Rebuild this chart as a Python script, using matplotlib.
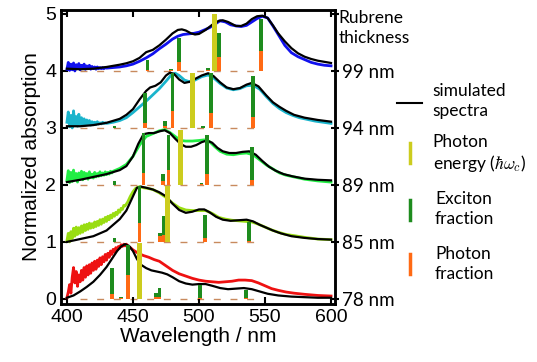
import matplotlib
matplotlib.use("Agg")
import matplotlib.pyplot as plt
from matplotlib.lines import Line2D

plt.rcParams['font.family'] = ['Liberation Sans', 'DejaVu Sans']
plt.rcParams['mathtext.fontset'] = 'cm'

# thickness labels (bottom to top) and vertical offsets
thickness = ['78 nm', '85 nm', '89 nm', '94 nm', '99 nm']
offsets = [0, 1, 2, 3, 4]

# measured spectra (wavelength, normalized absorption); noisy blue end read at 1 nm steps
wl_78 = list(range(400, 447)) + [448, 450, 454, 458, 462, 466, 470, 475, 480, 485, 490, 495, 500,
                                 505, 510, 515, 520, 525, 530, 535, 540, 545, 550, 555, 560, 566,
                                 572, 580, 590, 600]
meas_78 = [0.02, 0.12, 0.25, 0.10, 0.38, 0.55, 0.28, 0.48, 0.22, 0.42, 0.30, 0.50, 0.33, 0.55, 0.38,
           0.58, 0.42, 0.60, 0.45, 0.63, 0.50, 0.66, 0.52, 0.68, 0.57, 0.72, 0.60, 0.74, 0.65, 0.78,
           0.68, 0.80, 0.73, 0.84, 0.78, 0.87, 0.82, 0.90, 0.86, 0.92, 0.89, 0.95, 0.92, 0.96, 0.93,
           0.96, 0.93,
           0.90, 0.86, 0.80, 0.76, 0.73, 0.69, 0.66, 0.58, 0.50, 0.44, 0.40, 0.36, 0.33, 0.31,
           0.30, 0.29, 0.30, 0.31, 0.33, 0.33, 0.32, 0.28, 0.23, 0.18, 0.15, 0.12, 0.10, 0.08, 0.06, 0.05]

wl_85 = list(range(400, 445)) + [446, 448, 450, 452, 455, 458, 461, 465, 470, 475, 480, 485, 490,
                                 495, 500, 505, 510, 515, 520, 525, 530, 535, 540, 545, 550, 555,
                                 560, 566, 572, 580, 590, 600]
meas_85 = [0.02, 0.15, 0.00, 0.18, 0.06, 0.24, 0.10, 0.26, 0.13, 0.25, 0.15, 0.28, 0.17, 0.30, 0.20,
           0.31, 0.22, 0.33, 0.24, 0.32, 0.25, 0.35, 0.27, 0.36, 0.29, 0.39, 0.31, 0.40, 0.34, 0.43,
           0.36, 0.45, 0.39, 0.47, 0.42, 0.50, 0.45, 0.52, 0.48, 0.56, 0.52, 0.59, 0.57, 0.64, 0.63,
           0.70, 0.80, 0.88, 0.94, 0.97, 0.95, 0.94, 0.92, 0.86, 0.78, 0.68, 0.60, 0.56, 0.55, 0.55,
           0.55, 0.50, 0.43, 0.40, 0.38, 0.37, 0.36, 0.35, 0.31, 0.26, 0.21, 0.17, 0.13, 0.11, 0.08,
           0.05, 0.04]

wl_89 = list(range(400, 436)) + [440, 445, 450, 455, 460, 465, 470, 474, 478, 482, 486, 490, 495,
                                 500, 504, 508, 512, 516, 521, 526, 531, 536, 541, 546, 551, 556,
                                 561, 566, 572, 580, 590, 600]
meas_89 = [0.08, 0.25, 0.04, 0.22, 0.06, 0.26, 0.09, 0.20, 0.05, 0.21, 0.10, 0.24, 0.09, 0.22, 0.12,
           0.20, 0.10, 0.23, 0.13, 0.19, 0.12, 0.22, 0.14, 0.20, 0.15, 0.23, 0.16, 0.21, 0.17, 0.23,
           0.18, 0.22, 0.19, 0.24, 0.21, 0.24,
           0.29, 0.36, 0.50, 0.70, 0.85, 0.90, 0.95, 0.97, 0.92, 0.85, 0.78, 0.77, 0.77, 0.78, 0.79,
           0.76, 0.67, 0.59, 0.54, 0.53, 0.55, 0.56, 0.53, 0.44, 0.35, 0.28, 0.21, 0.17, 0.14, 0.10,
           0.07, 0.05]

wl_94 = list(range(400, 431)) + [435, 440, 445, 450, 455, 460, 465, 470, 475, 479, 482, 485, 489,
                                 493, 497, 502, 507, 511, 516, 521, 526, 531, 536, 541, 546, 551,
                                 556, 561, 566, 571, 576, 582, 588, 594, 600]
meas_94 = [0.10, 0.28, 0.02, 0.22, 0.00, 0.30, 0.05, 0.20, 0.03, 0.24, 0.06, 0.18, 0.04, 0.16, 0.05,
           0.14, 0.06, 0.13, 0.05, 0.11, 0.06, 0.10, 0.06, 0.11, 0.07, 0.09, 0.07, 0.10, 0.08, 0.09,
           0.08,
           0.10, 0.13, 0.18, 0.27, 0.37, 0.47, 0.58, 0.69, 0.82, 0.93, 0.96, 0.92, 0.84, 0.81, 0.84,
           0.90, 0.93, 0.88, 0.78, 0.70, 0.67, 0.69, 0.74, 0.75, 0.68, 0.55, 0.43, 0.34, 0.27, 0.22,
           0.18, 0.15, 0.12, 0.10, 0.08]

wl_99 = list(range(400, 431)) + [435, 440, 445, 450, 455, 460, 465, 470, 475, 480, 484, 488, 492,
                                 496, 500, 504, 508, 512, 516, 520, 524, 528, 532, 536, 540, 544,
                                 548, 552, 556, 560, 565, 570, 575, 580, 585, 590, 595, 600]
meas_99 = [0.03, 0.15, 0.01, 0.12, 0.02, 0.14, 0.00, 0.11, 0.04, 0.13, 0.02, 0.10, 0.05, 0.12, 0.03,
           0.09, 0.04, 0.10, 0.03, 0.08, 0.04, 0.07, 0.03, 0.07, 0.04, 0.06, 0.04, 0.06, 0.04, 0.06,
           0.05,
           0.06, 0.07, 0.09, 0.12, 0.17, 0.23, 0.30, 0.39, 0.47, 0.56, 0.61, 0.64, 0.65, 0.66, 0.68,
           0.72, 0.76, 0.82, 0.88, 0.86, 0.81, 0.79, 0.78, 0.80, 0.86, 0.92, 0.96, 0.93, 0.79, 0.64,
           0.45, 0.32, 0.25, 0.20, 0.15, 0.12, 0.10, 0.09]

# simulated spectra
sim_wl_78 = [400, 405, 410, 415, 420, 425, 430, 434, 438, 441, 444, 447, 450, 453, 456, 460, 464,
             468, 472, 476, 480, 485, 490, 495, 500, 505, 510, 516, 522, 528, 534, 540, 546, 552,
             560, 570, 580, 590, 600]
sim_78 = [0.02, 0.06, 0.13, 0.21, 0.30, 0.42, 0.56, 0.70, 0.84, 0.92, 0.96, 0.93, 0.84, 0.70, 0.60,
          0.54, 0.50, 0.48, 0.46, 0.43, 0.38, 0.31, 0.27, 0.25, 0.26, 0.26, 0.23, 0.19, 0.17, 0.18,
          0.19, 0.17, 0.13, 0.09, 0.06, 0.04, 0.03, 0.02, 0.02]

sim_wl_85 = [400, 410, 420, 430, 440, 445, 450, 453, 456, 460, 465, 470, 475, 480, 485, 490, 495,
             500, 504, 508, 513, 518, 524, 530, 536, 541, 546, 551, 556, 562, 570, 580, 590, 600]
sim_85 = [0.00, 0.05, 0.10, 0.20, 0.40, 0.55, 0.80, 0.95, 0.97, 0.95, 0.92, 0.87, 0.80, 0.67, 0.56,
          0.51, 0.53, 0.57, 0.57, 0.52, 0.44, 0.39, 0.37, 0.38, 0.39, 0.36, 0.30, 0.25, 0.20, 0.15,
          0.10, 0.07, 0.05, 0.04]

sim_wl_89 = [400, 410, 420, 430, 440, 445, 450, 454, 458, 462, 466, 470, 474, 478, 482, 486, 490,
             494, 498, 502, 506, 510, 514, 518, 523, 528, 533, 538, 543, 548, 553, 558, 564, 571,
             580, 590, 600]
sim_89 = [0.05, 0.09, 0.14, 0.19, 0.26, 0.33, 0.50, 0.72, 0.89, 0.91, 0.91, 0.94, 0.96, 0.91, 0.81,
          0.72, 0.67, 0.67, 0.70, 0.75, 0.78, 0.74, 0.65, 0.59, 0.56, 0.56, 0.58, 0.59, 0.53, 0.42,
          0.32, 0.25, 0.19, 0.15, 0.11, 0.09, 0.08]

sim_wl_94 = [400, 410, 420, 430, 440, 445, 450, 455, 460, 463, 467, 471, 475, 478, 481, 485, 489,
             493, 497, 502, 507, 511, 516, 521, 526, 531, 536, 540, 545, 551, 556, 561, 566, 572,
             580, 590, 600]
sim_94 = [0.03, 0.03, 0.05, 0.09, 0.16, 0.23, 0.33, 0.50, 0.65, 0.71, 0.74, 0.80, 0.92, 0.97, 0.95,
          0.85, 0.79, 0.81, 0.86, 0.92, 0.96, 0.91, 0.80, 0.71, 0.68, 0.70, 0.76, 0.79, 0.73, 0.57,
          0.45, 0.37, 0.30, 0.23, 0.18, 0.14, 0.11]

sim_wl_99 = [400, 410, 420, 430, 440, 445, 450, 455, 460, 465, 470, 475, 480, 484, 487, 490, 494,
             497, 500, 505, 510, 515, 518, 522, 528, 532, 536, 540, 544, 548, 552, 556, 560, 565,
             570, 575, 580, 585, 590, 595, 600]
sim_99 = [0.04, 0.03, 0.04, 0.07, 0.11, 0.135, 0.17, 0.23, 0.33, 0.37, 0.45, 0.55, 0.66, 0.72, 0.73,
          0.71, 0.66, 0.64, 0.65, 0.72, 0.81, 0.88, 0.89, 0.86, 0.79, 0.79, 0.83, 0.91, 0.96, 0.97,
          0.93, 0.80, 0.66, 0.52, 0.40, 0.31, 0.25, 0.21, 0.18, 0.16, 0.14]

# polariton branches: position, photon fraction, exciton fraction
pol_78 = [434, 441, 446, 467.5, 470, 501, 535.5]
pho_78 = [0.08, 0.01, 0.42, 0.04, 0.04, 0.02, 0.02]
exc_78 = [0.46, 0.03, 0.53, 0.06, 0.15, 0.23, 0.14]

pol_85 = [436, 455, 470.5, 473.5, 504.5, 538]
pho_85 = [0.00, 0.33, 0.10, 0.12, 0.07, 0.02]
exc_85 = [0.07, 0.65, 0.06, 0.33, 0.41, 0.33]

pol_89 = [436, 458, 472.5, 477, 502, 506, 540]
pho_89 = [0.00, 0.21, 0.065, 0.27, 0.01, 0.19, 0.09]
exc_89 = [0.065, 0.70, 0.125, 0.60, 0.02, 0.68, 0.58]

pol_94 = [436, 459, 474.5, 480, 503, 509, 541]
pho_94 = [0.00, 0.08, 0.03, 0.30, 0.00, 0.26, 0.19]
exc_94 = [0.04, 0.53, 0.09, 0.66, 0.04, 0.70, 0.72]

pol_99 = [461, 479, 485, 507, 515, 547]
pho_99 = [0.02, 0.01, 0.15, 0.01, 0.24, 0.35]
exc_99 = [0.18, 0.02, 0.42, 0.04, 0.42, 0.57]

# cavity photon energy
photon_pos = [455, 476, 486, 495, 511.5]
photon_h = [0.98, 0.98, 0.97, 0.97, 1.0]

meas_colors = ['#ee1111', '#99dd11', '#22ee44', '#1ab4cc', '#1111ee']
c_yellow = '#cccc1e'
c_green = '#1e8c1e'
c_orange = '#ff6a14'
c_dash = '#c88a5e'

wls = [wl_78, wl_85, wl_89, wl_94, wl_99]
meas = [meas_78, meas_85, meas_89, meas_94, meas_99]
sim_wls = [sim_wl_78, sim_wl_85, sim_wl_89, sim_wl_94, sim_wl_99]
sims = [sim_78, sim_85, sim_89, sim_94, sim_99]
pols = [pol_78, pol_85, pol_89, pol_94, pol_99]
phos = [pho_78, pho_85, pho_89, pho_94, pho_99]
excs = [exc_78, exc_85, exc_89, exc_94, exc_99]

fig = plt.figure(figsize=(5.37, 3.62), dpi=100)
ax = fig.add_axes([0.1136, 0.1602, 0.5102, 0.8122])

for i, off in enumerate(offsets):
    ax.plot([410, 546], [off, off], color=c_dash, lw=1, dashes=(5, 7), zorder=1)
    ax.plot(wls[i], [v + off for v in meas[i]], color=meas_colors[i], lw=2.0, zorder=2)
    ax.plot(sim_wls[i], [v + off for v in sims[i]], color='black', lw=1.6, zorder=2)
    bottoms = [off + p for p in phos[i]]
    ax.bar(pols[i], phos[i], width=2.8, bottom=off, color=c_orange, zorder=3)
    ax.bar(pols[i], excs[i], width=2.8, bottom=bottoms, color=c_green, zorder=3)
    ax.bar(photon_pos[i], photon_h[i], width=3.8, bottom=off, color=c_yellow, zorder=3)

ax.set_xlim(395.5, 603)
ax.set_ylim(-0.09, 5.07)
ax.set_xticks([400, 450, 500, 550, 600])
ax.set_yticks([0, 1, 2, 3, 4, 5])
ax.tick_params(direction='in', length=5, width=1.5, labelsize=14, top=True)
for s in ax.spines.values():
    s.set_linewidth(1.8)
ax.set_xlabel('Wavelength / nm', fontsize=15, labelpad=1)
ax.set_ylabel('Normalized absorption', fontsize=15, labelpad=3)

ax2 = ax.twinx()
ax2.set_ylim(ax.get_ylim())
ax2.set_yticks(offsets + [5])
ax2.set_yticklabels(thickness + [''], family=['Lato', 'DejaVu Sans'])
ax2.tick_params(direction='inout', length=6, width=1.5, labelsize=13.5, pad=2)
for s in ax2.spines.values():
    s.set_linewidth(1.8)
ax2.text(1.012, 1.0, 'Rubrene\nthickness', transform=ax2.transAxes, ha='left', va='top',
         fontsize=12.5, family=['Lato', 'DejaVu Sans'], linespacing=1.3)

# legend on the right
lfam = ['Lato', 'DejaVu Sans']
fig.add_artist(Line2D([0.739, 0.786], [0.7155, 0.7155], color='black', lw=1.5))
fig.text(0.806, 0.72, 'simulated\nspectra', ha='left', va='center', fontsize=12.5,
         family=lfam, linespacing=1.3)
fig.add_artist(Line2D([0.7635, 0.7635], [0.55, 0.605], color=c_yellow, lw=2.5))
fig.text(0.806, 0.575, 'Photon\nenergy ($\\hbar\\omega_c$)', ha='left', va='center', fontsize=12.5,
         family=lfam, linespacing=1.2)
fig.add_artist(Line2D([0.7635, 0.7635], [0.392, 0.4475], color=c_green, lw=2.5))
fig.text(0.81, 0.4225, 'Exciton\nfraction', ha='left', va='center', fontsize=12.5,
         family=lfam, linespacing=1.3)
fig.add_artist(Line2D([0.7635, 0.7635], [0.243, 0.298], color=c_orange, lw=2.5))
fig.text(0.81, 0.27, 'Photon\nfraction', ha='left', va='center', fontsize=12.5,
         family=lfam, linespacing=1.3)

fig.savefig('out.png', dpi=100)
